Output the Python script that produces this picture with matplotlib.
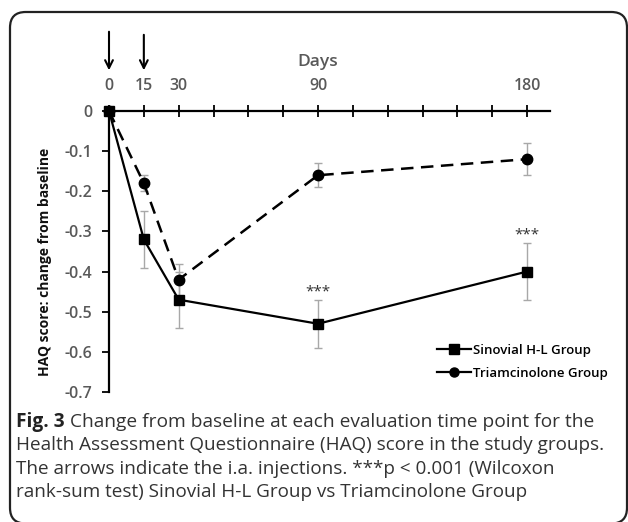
import matplotlib.pyplot as plt
from matplotlib.lines import Line2D
from matplotlib.patches import FancyBboxPatch

days = [0, 15, 30, 90, 180]
tick_days = [0, 15, 30, 90, 180]

sinovial = [0, -0.32, -0.47, -0.53, -0.40]
sinovial_err = [0, 0.07, 0.07, 0.06, 0.07]
triam = [0, -0.18, -0.42, -0.16, -0.12]
triam_err = [0, 0.02, 0.04, 0.03, 0.04]

signif_days = [90, 180]
signif_y = [-0.45, -0.31]

injection_days = [0, 15]

caption_lines = [
    " Change from baseline at each evaluation time point for the",
    "Health Assessment Questionnaire (HAQ) score in the study groups.",
    "The arrows indicate the i.a. injections. ***p < 0.001 (Wilcoxon",
    "rank-sum test) Sinovial H-L Group vs Triamcinolone Group",
]

plt.rcParams["font.family"] = ["Open Sans", "DejaVu Sans"]

W, H = 628, 522
fig = plt.figure(figsize=(W / 100, H / 100), dpi=100)

# frame around the figure panel (bottom edge sits on the image border)
box = FancyBboxPatch((10 / W, -1.5 / H), 617 / W, (H - 12 + 1.5) / H,
                     boxstyle="round,pad=0,rounding_size=0.025",
                     transform=fig.transFigure, fill=False,
                     edgecolor="#222222", linewidth=1.6, mutation_aspect=W / H)
fig.patches.append(box)

ax_l, ax_r = 109, 550
ax_t, ax_b = 111, 392
ax = fig.add_axes([ax_l / W, 1 - ax_b / H, (ax_r - ax_l) / W, (ax_b - ax_t) / H])
ax.set_xlim(0, 180 * (ax_r - ax_l) / (527 - 109))
ax.set_ylim(-0.7, 0)

ax.errorbar(days, sinovial, yerr=sinovial_err, fmt="none", ecolor="#a8a8a8",
            elinewidth=1, capsize=3, zorder=2)
ax.errorbar(days, triam, yerr=triam_err, fmt="none", ecolor="#a8a8a8",
            elinewidth=1, capsize=3, zorder=2)
ax.plot(days, sinovial, color="black", linewidth=1.6, marker="s", markersize=7,
        clip_on=False, zorder=3)
ax.plot(days, triam, color="black", linewidth=1.8, linestyle=(0, (5, 3)),
        marker="o", markersize=7.5, clip_on=False, zorder=3)

for d, y in zip(signif_days, signif_y):
    ax.text(d, y, "***", ha="center", va="center", fontsize=11, color="#333333")

# axes styling: x axis on top at y = 0
for s in ["right", "bottom"]:
    ax.spines[s].set_visible(False)
ax.spines["top"].set_linewidth(1.6)
ax.spines["left"].set_linewidth(1.6)
ax.xaxis.set_ticks_position("top")
ax.set_xticks(range(0, 181, 15))
ax.set_xticklabels([str(t) if t in tick_days else "" for t in range(0, 181, 15)])
ax.tick_params(axis="x", direction="inout", length=8, width=1.3, pad=8,
               labelsize=11.5, labelcolor="#595959")
ax.set_yticks([0, -0.1, -0.2, -0.3, -0.4, -0.5, -0.6, -0.7])
ax.set_yticklabels(["0", "-0.1", "-0.2", "-0.3", "-0.4", "-0.5", "-0.6", "-0.7"])
ax.tick_params(axis="y", direction="out", length=5, width=1.3, pad=7,
               labelsize=11.5, labelcolor="#595959")
for lbl in ax.get_xticklabels() + ax.get_yticklabels():
    lbl.set_fontweight("semibold")

ax.text(90, 1.174, "Days", transform=ax.get_xaxis_transform(), ha="center",
        va="center", fontsize=12.5, fontweight="semibold", color="#595959")

# injection arrows
xt = ax.get_xaxis_transform()
for d, top in zip(injection_days, [1.292, 1.281]):
    ax.annotate("", xy=(d, 1.135), xytext=(d, top), xycoords=xt, textcoords=xt,
                arrowprops=dict(arrowstyle="->", color="black", lw=1.5,
                                mutation_scale=14),
                annotation_clip=False)

fig.text(45 / W, 1 - 262 / H, "HAQ score: change from baseline", rotation=90,
         ha="center", va="center", fontsize=10, fontweight="bold",
         color="#111111")

handles = [
    Line2D([], [], color="black", linewidth=1.6, marker="s", markersize=6.5),
    Line2D([], [], color="black", linewidth=1.6, marker="o", markersize=6.5),
]
fig.legend(handles, ["Sinovial H-L Group", "Triamcinolone Group"],
           loc="upper left", bbox_to_anchor=(437 / W, 1 - 344 / H),
           frameon=False, handlelength=2.6, handletextpad=0.15,
           labelspacing=0.75, borderpad=0, borderaxespad=0,
           prop=dict(size=9.5, weight="semibold"))

# caption
first = fig.text(16 / W, 1 - 422 / H, "Fig. 3", fontsize=13.8, fontweight="bold",
                 color="#222222", va="center")
ax.annotate(caption_lines[0], xy=(1, 0.5), xycoords=first, va="center",
            fontsize=13.8, color="#333333", annotation_clip=False)
for i, line in enumerate(caption_lines[1:], start=1):
    fig.text(16 / W, 1 - (422 + 23.3 * i) / H, line, fontsize=13.6,
             color="#333333", va="center")

fig.savefig("out.png", dpi=100)
